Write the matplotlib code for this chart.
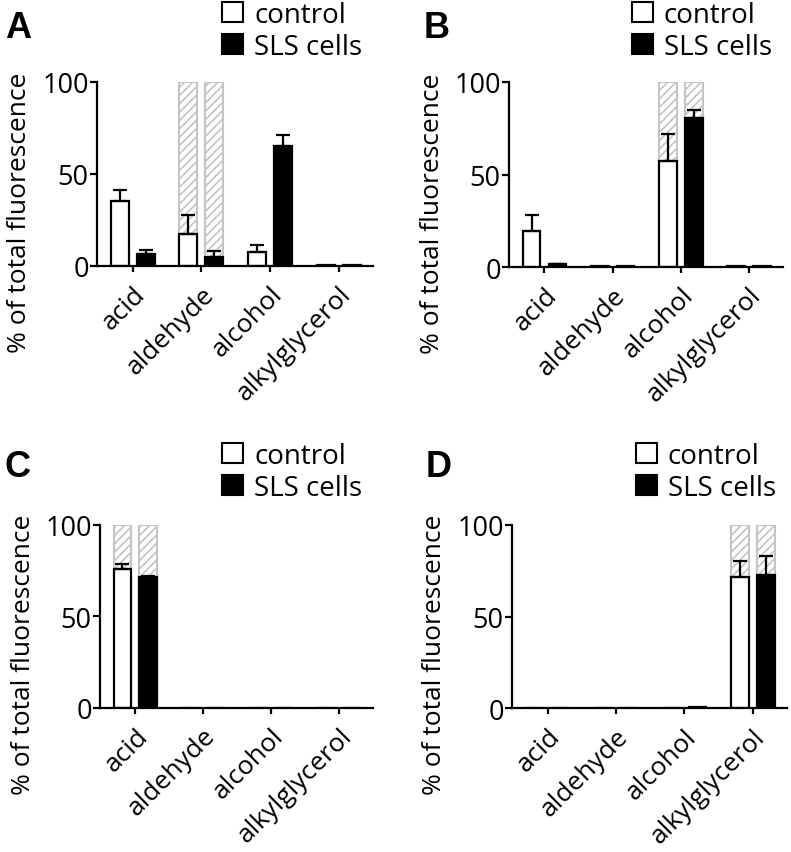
import numpy as np
import matplotlib.pyplot as plt
from matplotlib.patches import Patch
from matplotlib.transforms import ScaledTranslation

plt.rcParams['font.family'] = ['Open Sans', 'DejaVu Sans']
plt.rcParams['hatch.linewidth'] = 1.2

# Daten (Prozent der Gesamtfluoreszenz)
categories = ['acid', 'aldehyde', 'alcohol', 'alkylglycerol']

a_control = [35.5, 17.4, 7.8, 0.5]
a_control_err = [6.0, 10.3, 3.5, 0.0]
a_sls = [6.5, 4.7, 65.4, 0.7]
a_sls_err = [2.0, 3.3, 5.8, 0.0]

b_control = [19.3, 0.3, 57.1, 0.5]
b_control_err = [8.8, 0.0, 14.8, 0.0]
b_sls = [1.5, 0.4, 80.5, 0.5]
b_sls_err = [0.3, 0.0, 4.4, 0.0]

c_control = [75.8, 0.0, 0.0, 0.0]
c_control_err = [2.6, 0.0, 0.0, 0.0]
c_sls = [71.6, 0.0, 0.0, 0.0]
c_sls_err = [0.5, 0.0, 0.0, 0.0]

d_control = [0.3, 0.0, 0.3, 71.8]
d_control_err = [0.0, 0.0, 0.0, 8.7]
d_sls = [0.2, 0.0, 0.5, 72.7]
d_sls_err = [0.0, 0.0, 0.0, 10.2]

# markierte Kategorie (schraffierter Hintergrund bis 100 %)
highlight = [1, 2, 0, 3]
letters = ['A', 'B', 'C', 'D']

panels = [
    (a_control, a_control_err, a_sls, a_sls_err),
    (b_control, b_control_err, b_sls, b_sls_err),
    (c_control, c_control_err, c_sls, c_sls_err),
    (d_control, d_control_err, d_sls, d_sls_err),
]

# Achsenpositionen (Figurenkoordinaten)
axes_pos = [
    [0.1226, 0.687, 0.349, 0.2157],
    [0.6435, 0.6858, 0.3464, 0.2169],
    [0.1264, 0.1692, 0.3452, 0.2145],
    [0.6473, 0.1685, 0.3477, 0.2149],
]
letter_pos = [(0.006, 0.987), (0.536, 0.987), (0.006, 0.472), (0.538, 0.472)]
legend_pos = [(0.281, 0.998), (0.799, 0.998), (0.281, 0.481), (0.804, 0.481)]

fig = plt.figure(figsize=(7.91, 8.53), dpi=100)

w = 0.26
off = 0.19
x = np.arange(len(categories))
shift = ScaledTranslation(16 / 100, 0, fig.dpi_scale_trans)

for i in range(4):
    ctrl, ctrl_err, sls, sls_err = panels[i]
    ax = fig.add_axes(axes_pos[i])

    h = highlight[i]
    ax.bar([h - off, h + off], [100, 100], width=w, facecolor='white',
           edgecolor='#c4c4c4', hatch='////', linewidth=1.5, zorder=1)

    ax.bar(x - off, ctrl, width=w, facecolor='white', edgecolor='black',
           linewidth=1.6, zorder=2)
    ax.bar(x + off, sls, width=w, facecolor='black', edgecolor='black',
           linewidth=1.6, zorder=2)

    for xs, vals, errs in [(x - off, ctrl, ctrl_err), (x + off, sls, sls_err)]:
        errs = np.array(errs)
        m = errs > 0
        ax.errorbar(xs[m], np.array(vals)[m],
                    yerr=[np.zeros(m.sum()), errs[m]],
                    fmt='none', ecolor='black', elinewidth=1.6,
                    capsize=5, capthick=1.6, zorder=3)

    ax.set_xlim(-0.52, 3.5)
    ax.set_ylim(0, 100)
    ax.set_yticks([0, 50, 100])
    ax.set_xticks(x)
    ax.set_xticklabels(categories, rotation=45, ha='right', va='top',
                       rotation_mode='anchor', fontsize=19)
    for lab in ax.get_xticklabels():
        lab.set_transform(lab.get_transform() + shift)
    ax.tick_params(axis='y', labelsize=19.5, width=1.6, length=5, pad=1)
    ax.tick_params(axis='x', width=1.6, length=4, pad=7)
    ax.spines['top'].set_visible(False)
    ax.spines['right'].set_visible(False)
    ax.spines['left'].set_linewidth(1.6)
    ax.spines['bottom'].set_linewidth(1.6)
    ax.set_ylabel('% of total fluorescence', fontsize=19)
    ax.yaxis.set_label_coords(-0.235, 0.295)

    fig.text(letter_pos[i][0], letter_pos[i][1], letters[i], fontsize=26,
             fontweight='bold', family='Liberation Sans', va='top', ha='left')

    handles = [Patch(facecolor='white', edgecolor='black', linewidth=1.5),
               Patch(facecolor='black', edgecolor='black', linewidth=1.5)]
    ax.legend(handles, ['control', 'SLS cells'], loc='upper left',
              bbox_to_anchor=legend_pos[i], bbox_transform=fig.transFigure,
              frameon=False, fontsize=20, handlelength=0.75, handleheight=0.75,
              handletextpad=0.4, labelspacing=0.15, borderpad=0, borderaxespad=0)

fig.savefig('out.png', dpi=100)
